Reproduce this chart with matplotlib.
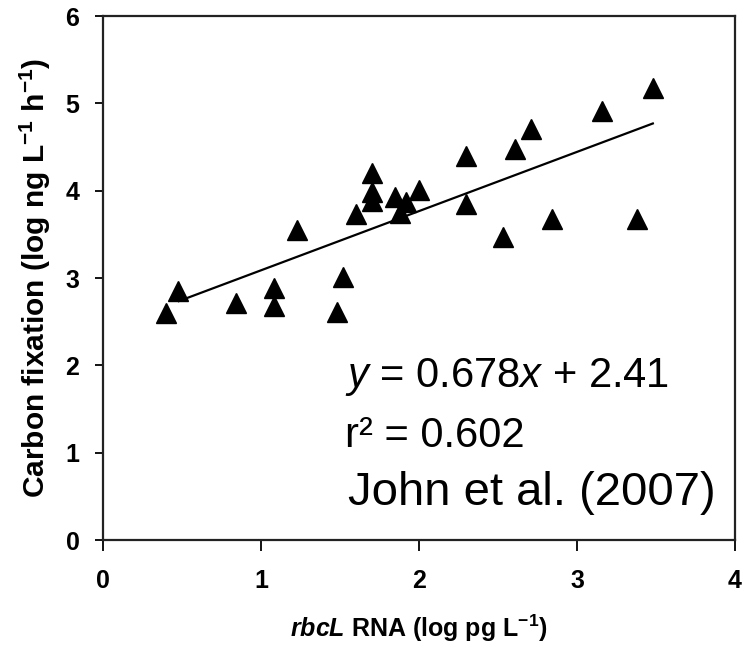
# Carbon fixation vs rbcL RNA, with regression line (John et al. 2007)

import numpy as np
import matplotlib.pyplot as plt

plt.rcParams['font.family'] = ['Liberation Sans', 'DejaVu Sans']
plt.rcParams['mathtext.fontset'] = 'custom'
plt.rcParams['mathtext.rm'] = 'Liberation Sans'
plt.rcParams['mathtext.it'] = 'Liberation Sans:italic'
plt.rcParams['mathtext.bf'] = 'Liberation Sans:bold'
plt.rcParams['mathtext.bfit'] = 'Liberation Sans:bold:italic'

# rbcL RNA (log pg/L)
rna = [0.40, 0.475, 0.84, 1.08, 1.08, 1.23, 1.48, 1.52, 1.60, 1.70, 1.70, 1.70,
       1.85, 1.88, 1.92, 2.00, 2.30, 2.30, 2.53, 2.61, 2.71, 2.84, 3.16, 3.38, 3.48]
# carbon fixation (log ng/L/h)
cfix = [2.60, 2.85, 2.71, 2.89, 2.68, 3.55, 2.61, 3.01, 3.73, 4.20, 3.98, 3.88,
        3.93, 3.75, 3.87, 4.01, 4.40, 3.85, 3.47, 4.48, 4.71, 3.67, 4.91, 3.67, 5.18]

slope = 0.678
icept = 2.41
fit_x = np.array([0.48, 3.48])
fit_y = slope * fit_x + icept

fig = plt.figure(figsize=(7.47, 6.5), dpi=100)
ax = fig.add_axes([103/747, 110/650, 632/747, 524/650])

ax.plot(rna, cfix, "k^", ms=14, mec="black", zorder=3)
ax.plot(fit_x, fit_y, "k-", lw=1.6, zorder=2)

ax.set_xlim(0, 4)
ax.set_ylim(0, 6)
ax.set_xticks([0, 1, 2, 3, 4])
ax.set_yticks([0, 1, 2, 3, 4, 5, 6])

for s in ax.spines.values():
    s.set_linewidth(1.6)
    s.set_color("#222222")

ax.tick_params(axis="x", direction="out", length=8, width=1.3, pad=13, labelsize=18)
ax.tick_params(axis="y", direction="out", length=6, width=1.3, pad=11, labelsize=18)
for lab in ax.get_xticklabels() + ax.get_yticklabels():
    lab.set_fontweight("bold")

ax.set_xlabel(r"$\mathbfit{rbcL}$ RNA (log pg L$^{\mathbf{-1}}$)", fontsize=18,
              fontweight="bold", labelpad=14)
ax.set_ylabel(r"Carbon fixation (log ng L$^{\mathbf{-1}}$ h$^{\mathbf{-1}}$)", fontsize=21.5,
              fontweight="bold", labelpad=9)

ax.text(1.53, 1.75, r"$y$ = 0.678$x$ + 2.41", fontsize=30, va="baseline")
ax.text(1.53, 1.065, "r² = 0.602", fontsize=30, va="baseline")
ax.text(1.55, 0.40, "John et al. (2007)", fontsize=34, va="baseline")

plt.savefig("out.png", dpi=100)
